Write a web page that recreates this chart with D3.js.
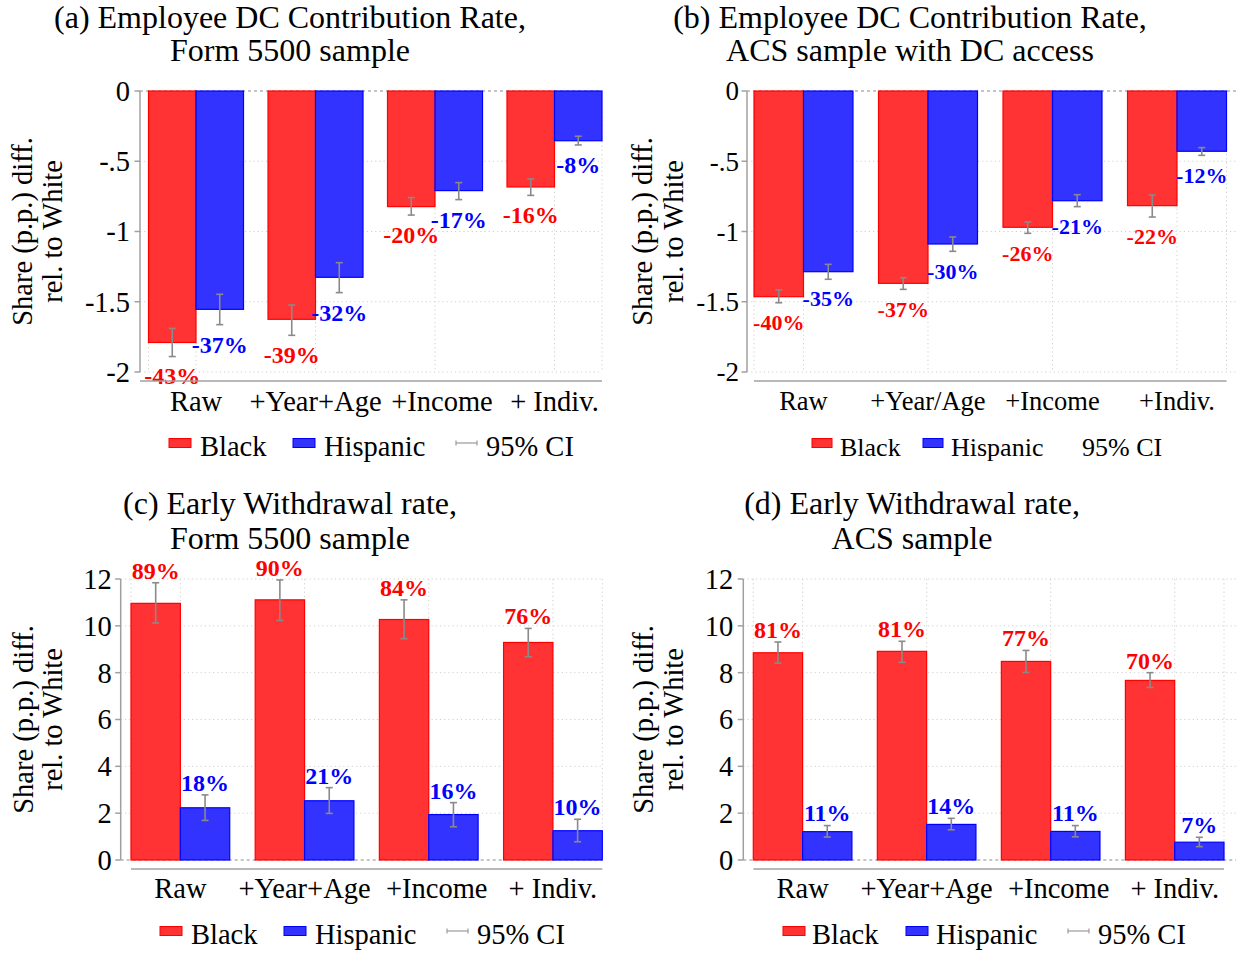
<!DOCTYPE html>
<html>
<head>
<meta charset="utf-8">
<script src="https://cdn.jsdelivr.net/npm/d3@7"></script>
<style>
  html, body { margin: 0; padding: 0; background: #fff; }
  svg { display: block; }
  text { font-family: "Liberation Serif", "Times New Roman", serif; fill: #000; }
</style>
</head>
<body>
<svg id="chart" width="1236" height="953"></svg>
<script>
// ---- Data ----------------------------------------------------------------
const catsMain = ["Raw", "+Year+Age", "+Income", "+ Indiv."];
const catsACS = ["Raw", "+Year/Age", "+Income", "+Indiv."];

const negTicks = [0, -0.5, -1, -1.5, -2];
const negTickLabels = ["0", "-.5", "-1", "-1.5", "-2"];
const posTicks = [0, 2, 4, 6, 8, 10, 12];
const posTickLabels = ["0", "2", "4", "6", "8", "10", "12"];

// (a) DC contribution rate, Form 5500
const aBlack = [-1.79, -1.625, -0.823, -0.683];
const aBlackLo = [-1.89, -1.739, -0.883, -0.743];
const aBlackHi = [-1.69, -1.523, -0.759, -0.626];
const aHisp = [-1.554, -1.326, -0.709, -0.354];
const aHispLo = [-1.663, -1.435, -0.773, -0.384];
const aHispHi = [-1.447, -1.222, -0.652, -0.322];
const aBlackPct = ["-43%", "-39%", "-20%", "-16%"];
const aHispPct = ["-37%", "-32%", "-17%", "-8%"];

// (b) DC contribution rate, ACS with DC access
const bBlack = [-1.464, -1.369, -0.970, -0.816];
const bBlackLo = [-1.507, -1.412, -1.013, -0.897];
const bBlackHi = [-1.416, -1.329, -0.932, -0.740];
const bHisp = [-1.286, -1.089, -0.781, -0.429];
const bHispLo = [-1.340, -1.141, -0.823, -0.458];
const bHispHi = [-1.234, -1.039, -0.738, -0.403];
const bBlackPct = ["-40%", "-37%", "-26%", "-22%"];
const bHispPct = ["-35%", "-30%", "-21%", "-12%"];

// (c) Early withdrawal rate, Form 5500
const cBlack = [10.96, 11.11, 10.27, 9.29];
const cBlackLo = [10.12, 10.23, 9.45, 8.68];
const cBlackHi = [11.84, 11.96, 11.11, 9.89];
const cHisp = [2.23, 2.53, 1.94, 1.25];
const cHispLo = [1.69, 1.99, 1.42, 0.78];
const cHispHi = [2.78, 3.09, 2.45, 1.74];
const cBlackPct = ["89%", "90%", "84%", "76%"];
const cHispPct = ["18%", "21%", "16%", "10%"];

// (d) Early withdrawal rate, ACS
const dBlack = [8.85, 8.91, 8.48, 7.67];
const dBlackLo = [8.41, 8.44, 8.01, 7.37];
const dBlackHi = [9.31, 9.34, 8.95, 8.00];
const dHisp = [1.21, 1.52, 1.22, 0.76];
const dHispLo = [0.98, 1.29, 0.99, 0.57];
const dHispHi = [1.47, 1.78, 1.47, 0.97];
const dBlackPct = ["81%", "81%", "77%", "70%"];
const dHispPct = ["11%", "14%", "11%", "7%"];

const seriesNames = ["Black", "Hispanic"];
const ciName = "95% CI";
const yTitle = ["Share (p.p.) diff.", "rel. to White"];

// ---- Styles ---------------------------------------------------------------
const FILL = { Black: "#ff3333", Hispanic: "#3333ff" };
const EDGE = { Black: "#ff0000", Hispanic: "#0000ff" };
const LABEL = { Black: "#ff0000", Hispanic: "#0000ff" };
const AXIS = "#a0a0a0";
const GRID = "#cfcfcf";
const CI = "#8a8a8a";

const svg = d3.select("#chart");

function drawPanel(p) {
  const g = svg.append("g");
  const L = p.layout;

  const y = d3.scaleLinear().domain(p.domain).range([L.yBottom, L.yTop]);
  const x0 = d3.scaleBand().domain(p.cats).range([L.plotL, L.plotR])
    .paddingInner(0.205).paddingOuter(0);
  const x1 = d3.scaleBand().domain(seriesNames).range([0, x0.bandwidth()]);

  // horizontal dotted grid
  g.append("g").selectAll("line").data(p.ticks.filter(t => t !== 0)).join("line")
    .attr("x1", L.axisX).attr("x2", L.gridR)
    .attr("y1", d => y(d)).attr("y2", d => y(d))
    .attr("stroke", GRID).attr("stroke-width", 1).attr("stroke-dasharray", "1.2,3");

  // vertical dotted grid at plot edges and group centres
  const vx = [L.plotL, ...p.cats.map(c => x0(c) + x0.bandwidth() / 2), L.plotR];
  const yExt = d3.extent(p.ticks.map(t => y(t)));
  g.append("g").selectAll("line").data(vx).join("line")
    .attr("x1", d => d).attr("x2", d => d)
    .attr("y1", yExt[0]).attr("y2", yExt[1])
    .attr("stroke", GRID).attr("stroke-width", 1).attr("stroke-dasharray", "1.2,3");

  // zero reference line
  g.append("line")
    .attr("x1", L.axisX).attr("x2", L.gridR)
    .attr("y1", y(0)).attr("y2", y(0))
    .attr("stroke", "#8c8c8c").attr("stroke-width", 1.2).attr("stroke-dasharray", "3,3");

  // rows of data for bars
  const rows = [];
  p.cats.forEach((c, i) => {
    rows.push({ cat: c, s: "Black", v: p.black[i], lo: p.blackLo[i], hi: p.blackHi[i], lab: p.blackPct[i] });
    rows.push({ cat: c, s: "Hispanic", v: p.hisp[i], lo: p.hispLo[i], hi: p.hispHi[i], lab: p.hispPct[i] });
  });
  const cx = d => x0(d.cat) + x1(d.s) + x1.bandwidth() / 2;

  g.append("g").selectAll("rect").data(rows).join("rect")
    .attr("x", d => x0(d.cat) + x1(d.s))
    .attr("width", x1.bandwidth())
    .attr("y", d => Math.min(y(d.v), y(0)))
    .attr("height", d => Math.abs(y(d.v) - y(0)))
    .attr("fill", d => FILL[d.s])
    .attr("stroke", d => EDGE[d.s]).attr("stroke-width", 1.2);

  // confidence intervals
  const ci = g.append("g").attr("stroke", CI).attr("stroke-width", 1.6).attr("fill", "none");
  rows.forEach(d => {
    const xc = cx(d);
    ci.append("line").attr("x1", xc).attr("x2", xc).attr("y1", y(d.lo)).attr("y2", y(d.hi));
    [d.lo, d.hi].forEach(v => ci.append("line")
      .attr("x1", xc - 3.5).attr("x2", xc + 3.5).attr("y1", y(v)).attr("y2", y(v)));
  });

  // percentage labels beyond the CI end
  g.append("g").selectAll("text").data(rows).join("text")
    .attr("x", cx)
    .attr("y", d => d.v < 0 ? y(d.lo) + 19.5 : y(d.hi) - 12.5)
    .attr("dy", "0.35em")
    .attr("text-anchor", "middle")
    .attr("font-weight", "bold")
    .attr("font-size", p.valFont)
    .style("fill", d => LABEL[d.s])
    .text(d => d.lab);

  // y axis
  g.append("line").attr("x1", L.axisX).attr("x2", L.axisX)
    .attr("y1", yExt[0]).attr("y2", yExt[1])
    .attr("stroke", AXIS).attr("stroke-width", 1.5);
  g.append("g").selectAll("line").data(p.ticks).join("line")
    .attr("x1", L.axisX - 5.5).attr("x2", L.axisX)
    .attr("y1", d => y(d)).attr("y2", d => y(d))
    .attr("stroke", AXIS).attr("stroke-width", 1.5);
  g.append("g").selectAll("text").data(p.ticks).join("text")
    .attr("x", L.axisX - L.tickGap)
    .attr("y", d => y(d)).attr("dy", "0.35em")
    .attr("text-anchor", "end")
    .attr("font-size", p.tickFont)
    .text((d, i) => p.tickLabels[i]);

  // x axis (offset below the plot)
  g.append("line").attr("x1", L.xAxisL).attr("x2", L.plotR)
    .attr("y1", L.xAxisY).attr("y2", L.xAxisY)
    .attr("stroke", AXIS).attr("stroke-width", 1.5);
  g.append("g").selectAll("text").data(p.cats).join("text")
    .attr("x", (d, i) => x0(d) + x0.bandwidth() / 2 + p.catDx[i])
    .attr("y", L.catY)
    .attr("text-anchor", "middle")
    .attr("font-size", p.catFont)
    .text(d => d);

  // y title (two lines)
  const ymid = (yExt[0] + yExt[1]) / 2;
  yTitle.forEach((t, i) => {
    g.append("text")
      .attr("transform", `translate(${L.yTitleX[i]},${ymid}) rotate(-90)`)
      .attr("text-anchor", "middle")
      .attr("font-size", 28.5)
      .text(t);
  });

  // panel title
  p.title.forEach((t, i) => {
    g.append("text")
      .attr("x", L.titleX).attr("y", L.titleY[i])
      .attr("text-anchor", "middle")
      .attr("font-size", 32)
      .text(t);
  });

  // legend
  const lg = g.append("g");
  const off = p.legendOffsets;
  const sw = p.legendSwatch;
  seriesNames.forEach((s, i) => {
    lg.append("rect")
      .attr("x", L.legendX + off[i * 2]).attr("y", L.legendY - 17.5)
      .attr("width", sw).attr("height", 9)
      .attr("fill", FILL[s]).attr("stroke", EDGE[s]).attr("stroke-width", 1);
    lg.append("text")
      .attr("x", L.legendX + off[i * 2 + 1]).attr("y", L.legendY)
      .attr("font-size", p.legendFont)
      .text(s);
  });
  if (p.legendCI) {
    const lx = L.legendX + off[4], ly = L.legendY - 13;
    lg.append("line").attr("x1", lx).attr("x2", lx + 21).attr("y1", ly).attr("y2", ly)
      .attr("stroke", "#9a9a9a").attr("stroke-width", 1.2);
    [lx, lx + 21].forEach(v => lg.append("line").attr("x1", v).attr("x2", v)
      .attr("y1", ly - 2.5).attr("y2", ly + 2.5).attr("stroke", "#9a9a9a").attr("stroke-width", 1.2));
  }
  lg.append("text")
    .attr("x", L.legendX + off[5]).attr("y", L.legendY)
    .attr("font-size", p.legendFont)
    .text(ciName);
}

const mainLegend = [0, 31, 124, 155, 287, 317];

drawPanel({
  cats: catsMain, domain: [-2, 0], ticks: negTicks, tickLabels: negTickLabels,
  black: aBlack, blackLo: aBlackLo, blackHi: aBlackHi,
  hisp: aHisp, hispLo: aHispLo, hispHi: aHispHi,
  blackPct: aBlackPct, hispPct: aHispPct,
  title: ["(a) Employee DC Contribution Rate,", "Form 5500 sample"],
  tickFont: 28.5, catFont: 28.5, legendFont: 28.5, valFont: 24,
  catDx: [0, 0, 7, 0], legendOffsets: mainLegend, legendSwatch: 22, legendCI: true,
  layout: {
    axisX: 140, plotL: 148.5, plotR: 602, gridR: 602, yTop: 91, yBottom: 372,
    xAxisL: 140, xAxisY: 381, catY: 411, tickGap: 10,
    yTitleX: [32, 61.5], titleX: 290, titleY: [28, 61],
    legendX: 169, legendY: 456
  }
});

drawPanel({
  cats: catsACS, domain: [-2, 0], ticks: negTicks, tickLabels: negTickLabels,
  black: bBlack, blackLo: bBlackLo, blackHi: bBlackHi,
  hisp: bHisp, hispLo: bHispLo, hispHi: bHispHi,
  blackPct: bBlackPct, hispPct: bHispPct,
  title: ["(b) Employee DC Contribution Rate,", "ACS sample with DC access"],
  tickFont: 27, catFont: 26.5, legendFont: 26, valFont: 22,
  catDx: [0, 0, 0, 0], legendOffsets: [0, 28, 111, 139, 240, 270], legendSwatch: 20, legendCI: false,
  layout: {
    axisX: 747, plotL: 754, plotR: 1226.5, gridR: 1236, yTop: 91, yBottom: 372,
    xAxisL: 754, xAxisY: 381, catY: 410, tickGap: 8,
    yTitleX: [652, 682.5], titleX: 910, titleY: [28, 61],
    legendX: 812, legendY: 456
  }
});

drawPanel({
  cats: catsMain, domain: [0, 12], ticks: posTicks, tickLabels: posTickLabels,
  black: cBlack, blackLo: cBlackLo, blackHi: cBlackHi,
  hisp: cHisp, hispLo: cHispLo, hispHi: cHispHi,
  blackPct: cBlackPct, hispPct: cHispPct,
  title: ["(c) Early Withdrawal rate,", "Form 5500 sample"],
  tickFont: 28.5, catFont: 28.5, legendFont: 28.5, valFont: 24,
  catDx: [0, 0, 8, 0], legendOffsets: mainLegend, legendSwatch: 22, legendCI: true,
  layout: {
    axisX: 120.7, plotL: 131, plotR: 602.3, gridR: 602.3, yTop: 579, yBottom: 860,
    xAxisL: 131, xAxisY: 869, catY: 898, tickGap: 9,
    yTitleX: [33, 62], titleX: 290, titleY: [514, 548.5],
    legendX: 160, legendY: 944
  }
});

drawPanel({
  cats: catsMain, domain: [0, 12], ticks: posTicks, tickLabels: posTickLabels,
  black: dBlack, blackLo: dBlackLo, blackHi: dBlackHi,
  hisp: dHisp, hispLo: dHispLo, hispHi: dHispHi,
  blackPct: dBlackPct, hispPct: dHispPct,
  title: ["(d) Early Withdrawal rate,", "ACS sample"],
  tickFont: 28.5, catFont: 28.5, legendFont: 28.5, valFont: 24,
  catDx: [0, 0, 8, 0], legendOffsets: [0, 29, 123, 153, 285, 315], legendSwatch: 22, legendCI: true,
  layout: {
    axisX: 743.3, plotL: 753.3, plotR: 1224, gridR: 1236, yTop: 579, yBottom: 860,
    xAxisL: 753.3, xAxisY: 869, catY: 898, tickGap: 10,
    yTitleX: [653, 682.5], titleX: 912, titleY: [514, 548.5],
    legendX: 783, legendY: 944
  }
});
</script>
</body>
</html>
